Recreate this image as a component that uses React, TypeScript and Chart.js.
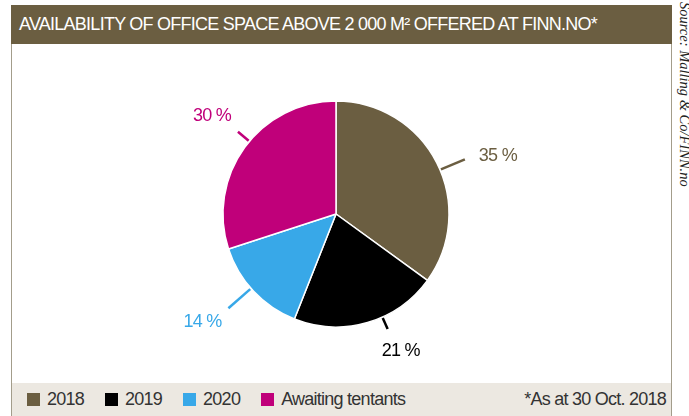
import React, { useEffect, useRef } from "react";
import { Chart, registerables } from "chart.js";

Chart.register(...registerables);

const categories = ["2018", "2019", "2020", "Awaiting tentants"];
const values = [35, 21, 14, 30];
const valueLabels = ["35 %", "21 %", "14 %", "30 %"];
const colors = ["#6b5e41", "#000000", "#38a8e8", "#c0007a"];
const title = "AVAILABILITY OF OFFICE SPACE ABOVE 2 000 M² OFFERED AT FINN.NO*";
const note = "*As at 30 Oct. 2018";
const source = "Source: Malling & Co/FINN.no";

// leader-line styling per slice (angle nudge in degrees, line length, label offset)
const leaderStyle = [
  { nudge: 4, len: 27, dx: 33, dy: -3 },
  { nudge: -8, len: 13, dx: 13, dy: 22 },
  { nudge: 2, len: 30, dx: -26, dy: 14 },
  { nudge: 4, len: 15, dx: -26, dy: -16 },
];

const FONT = "'Liberation Sans', Arial, sans-serif";

const leaderPlugin = {
  id: "leaders",
  afterDatasetsDraw(chart: any) {
    const ctx = chart.ctx;
    const meta = chart.getDatasetMeta(0);
    meta.data.forEach((arc: any, i: number) => {
      const { x, y, startAngle, endAngle, outerRadius } = arc.getProps(
        ["x", "y", "startAngle", "endAngle", "outerRadius"],
        true
      );
      const st = leaderStyle[i];
      const a = (startAngle + endAngle) / 2 + (st.nudge * Math.PI) / 180;
      const r0 = outerRadius + 1;
      const r1 = outerRadius + st.len;
      const x0 = x + Math.cos(a) * r0;
      const y0 = y + Math.sin(a) * r0;
      const x1 = x + Math.cos(a) * r1;
      const y1 = y + Math.sin(a) * r1;
      ctx.save();
      ctx.strokeStyle = colors[i];
      ctx.lineWidth = 2.5;
      ctx.beginPath();
      ctx.moveTo(x0, y0);
      ctx.lineTo(x1, y1);
      ctx.stroke();
      ctx.fillStyle = colors[i];
      ctx.font = `18px ${FONT}`;
      ctx.textAlign = "center";
      ctx.textBaseline = "middle";
      ctx.fillText(valueLabels[i], x1 + st.dx, y1 + st.dy);
      ctx.restore();
    });
  },
};

export default function App() {
  const ref = useRef<HTMLCanvasElement | null>(null);

  useEffect(() => {
    if (!ref.current) return;
    const chart = new Chart(ref.current, {
      type: "pie",
      data: {
        labels: categories,
        datasets: [
          {
            data: values,
            backgroundColor: colors,
            borderColor: "#ffffff",
            borderWidth: 1.5,
          },
        ],
      },
      options: {
        animation: false,
        responsive: false,
        devicePixelRatio: 1,
        radius: 113,
        layout: { padding: { left: 200, right: 217, top: 101, bottom: 89 } },
        plugins: {
          legend: { display: false },
          tooltip: { enabled: false },
        },
        events: [],
      } as any,
      plugins: [leaderPlugin],
    });
    return () => chart.destroy();
  }, []);

  return (
    <div
      style={{
        position: "absolute",
        left: 0,
        top: 0,
        width: 689,
        height: 416,
        overflow: "hidden",
        background: "#ffffff",
        fontFamily: FONT,
        letterSpacing: "-0.75px",
      }}
    >
      <div
        style={{
          position: "absolute",
          left: 11,
          top: 5,
          width: 659,
          height: 411,
          borderLeft: "1px solid #a39d8b",
          borderRight: "1px solid #a39d8b",
        }}
      />
      <div
        style={{
          position: "absolute",
          left: 11,
          top: 5,
          width: 661,
          height: 39,
          background: "#6b5e41",
          color: "#ffffff",
          fontSize: 18,
          lineHeight: "39px",
          paddingLeft: 8,
          boxSizing: "border-box",
          whiteSpace: "nowrap",
        }}
      >
        {title}
      </div>
      <div
        style={{
          position: "absolute",
          left: 11,
          top: 383,
          width: 661,
          height: 33,
          background: "#ece8e1",
          borderLeft: "1px solid #a39d8b",
          borderRight: "1px solid #a39d8b",
          boxSizing: "border-box",
        }}
      >
        <div
          style={{
            position: "absolute",
            left: 15,
            top: 0,
            height: 33,
            display: "flex",
            alignItems: "center",
            color: "#333333",
            fontSize: 18,
          }}
        >
          {categories.map((c, i) => (
            <div key={c} style={{ display: "flex", alignItems: "center", marginRight: 21 }}>
              <span
                style={{
                  display: "inline-block",
                  width: 13,
                  height: 13,
                  background: colors[i],
                  marginRight: 7,
                }}
              />
              <span style={{ whiteSpace: "nowrap" }}>{c}</span>
            </div>
          ))}
        </div>
        <div
          style={{
            position: "absolute",
            right: 5,
            top: 0,
            lineHeight: "33px",
            color: "#333333",
            fontSize: 18,
            whiteSpace: "nowrap",
          }}
        >
          {note}
        </div>
      </div>
      <div
        style={{
          position: "absolute",
          left: 692,
          top: 2,
          transform: "rotate(90deg)",
          transformOrigin: "0 0",
          whiteSpace: "nowrap",
          fontFamily: "'Liberation Serif', serif",
          fontStyle: "italic",
          fontSize: 14.5,
          lineHeight: "14px",
          letterSpacing: "0px",
          color: "#222222",
        }}
      >
        {source}
      </div>
      <canvas
        ref={ref}
        width={689}
        height={416}
        style={{ position: "absolute", left: 0, top: 0, width: 689, height: 416 }}
      />
    </div>
  );
}
